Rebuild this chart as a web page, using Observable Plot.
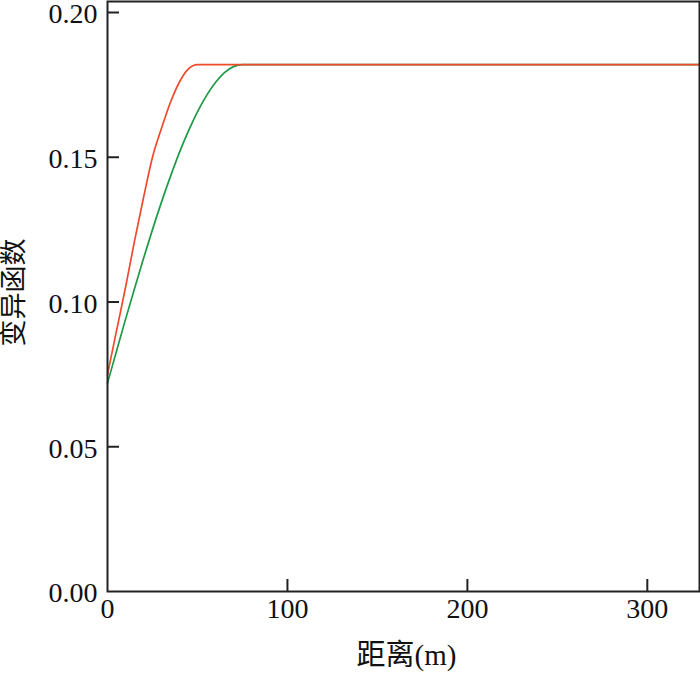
<!DOCTYPE html>
<html>
<head>
<meta charset="utf-8">
<script src="https://cdn.jsdelivr.net/npm/d3@7"></script>
<script src="https://cdn.jsdelivr.net/npm/@observablehq/plot@0.6"></script>
<style>
  html, body { margin: 0; padding: 0; background: #fff; }
  #chart svg { display: block; }
</style>
</head>
<body>
<div id="chart"></div>
<script>
// Distances (m) and semivariogram values
const redDist   = [0, 5, 10, 15, 20, 25, 30, 35, 40, 45, 50, 55, 100, 200, 330];
const redValue  = [0.075, 0.090, 0.105, 0.121, 0.136, 0.150, 0.160, 0.169, 0.176, 0.1805, 0.182, 0.182, 0.182, 0.182, 0.182];
const greenDist  = [0, 5, 10, 15, 20, 25, 30, 35, 40, 45, 50, 55, 60, 65, 70, 75, 80, 100, 200, 330];
const greenValue = [0.072, 0.083, 0.094, 0.1046, 0.115, 0.125, 0.1345, 0.1434, 0.1517, 0.1591, 0.1657, 0.1713, 0.1758, 0.1792, 0.1813, 0.182, 0.182, 0.182, 0.182, 0.182];
const xTicks = [0, 100, 200, 300];
const yTicks = [0.00, 0.05, 0.10, 0.15, 0.20];
const xLabel = "距离(m)";
const yLabel = "变异函数";
const redColor = "#ef4a2b";
const greenColor = "#1e9a45";

const red = redDist.map((d, i) => ({d, v: redValue[i]}));
const green = greenDist.map((d, i) => ({d, v: greenValue[i]}));

const W = 700, H = 674;
const mT = 1, mB = 83, mL = 107, mR = 1;
const plotH = H - mT - mB;
const plotW = W - mL - mR;
const tickLen = 12;

const chart = Plot.plot({
  width: W,
  height: H,
  marginTop: mT,
  marginBottom: mB,
  marginLeft: mL,
  marginRight: mR,
  style: {fontFamily: "'Liberation Serif', 'Noto Sans CJK SC', serif", fontSize: "28px", color: "#111", background: "#fff", overflow: "visible"},
  x: {domain: [0, 329]},
  y: {domain: [0, 0.2038]},
  marks: [
    Plot.axisX(xTicks, {tickSize: 0, tickPadding: 7, tickFormat: d => String(d), label: null, fontSize: 28}),
    Plot.axisY(yTicks, {tickSize: 0, tickPadding: 10, dy: 2, tickFormat: d => d.toFixed(2), label: null, fontSize: 28}),
    Plot.tickX(xTicks.filter(t => t > 0), {x: d => d, insetTop: plotH - tickLen, stroke: "#222", strokeWidth: 2}),
    Plot.tickY(yTicks.filter(t => t > 0), {y: d => d, insetRight: plotW - tickLen, stroke: "#222", strokeWidth: 2}),
    Plot.line(green, {x: "d", y: "v", stroke: greenColor, strokeWidth: 1.7, curve: "monotone-x"}),
    Plot.line(red, {x: "d", y: "v", stroke: redColor, strokeWidth: 1.7, curve: "monotone-x"}),
    Plot.frame({stroke: "#222", strokeWidth: 2}),
    Plot.text([xLabel], {text: d => d, frameAnchor: "bottom", textAnchor: "middle", dx: 3, dy: 73, fontSize: 29, fill: "#111"}),
    Plot.text([yLabel], {text: d => d, frameAnchor: "left", textAnchor: "middle", dx: -93, dy: -4, rotate: -90, fontSize: 27, fill: "#111"})
  ]
});
document.getElementById("chart").appendChild(chart);
</script>
</body>
</html>
